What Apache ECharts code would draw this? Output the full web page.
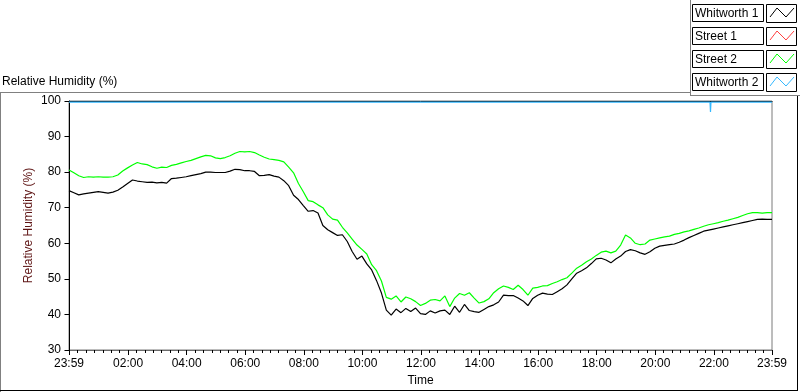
<!DOCTYPE html>
<html><head><meta charset="utf-8">
<script src="https://cdn.jsdelivr.net/npm/echarts@6/dist/echarts.min.js"></script>
<style>html,body{margin:0;padding:0;background:#fff}#c{width:800px;height:392px}</style>
</head><body><div id="c"></div><script>
// ---- data ----
const seriesNames = ['Whitworth 1', 'Street 1', 'Street 2', 'Whitworth 2'];
const seriesColors = ['#000000', '#ff4040', '#00ff00', '#33b8ff'];
// sample times: minutes from midnight, 23:59 of the previous day = -1, every 10 minutes
const sampleMinutes = Array.from({length: 145}, (_, i) => -1 + 10 * i);
const whitworth1 = [
74.8,74.2,73.6,73.9,74.1,74.3,74.5,74.3,74.1,74.4,
74.9,75.8,76.8,77.8,77.5,77.3,77.1,77.2,77.0,77.1,
76.9,78.2,78.3,78.5,78.7,79.0,79.3,79.6,80.0,80.0,
79.9,79.9,79.9,80.3,80.8,80.7,80.4,80.4,80.2,79.0,
79.1,79.3,78.9,78.6,77.6,76.2,73.5,72.3,70.6,69.0,
69.2,68.5,65.0,63.8,63.0,62.2,62.4,60.5,57.7,55.5,
56.4,54.2,52.5,49.5,46.0,41.2,39.8,41.5,40.5,41.7,
40.8,41.8,40.2,40.0,41.0,40.4,41.0,41.2,40.0,42.3,
40.6,42.8,41.1,40.8,40.6,41.4,42.2,42.7,43.5,45.4,
45.3,45.3,44.6,43.8,42.5,44.5,45.4,46.0,45.7,45.6,
46.4,47.2,48.3,50.0,51.6,52.3,53.1,54.3,55.6,55.8,
55.3,54.5,55.6,56.4,57.7,58.2,57.9,57.3,56.9,57.6,
58.6,59.2,59.4,59.6,59.8,60.3,60.9,61.6,62.2,62.8,
63.4,63.7,64.0,64.3,64.6,64.9,65.2,65.5,65.8,66.1,
66.4,66.7,66.8,66.7,66.7
];
const street1 = [];
const street2 = [
80.6,79.8,79.0,78.5,78.7,78.6,78.7,78.6,78.6,78.7,
79.2,80.3,81.2,82.0,82.7,82.3,82.1,81.5,81.1,81.4,
81.3,81.9,82.2,82.6,83.0,83.3,83.8,84.3,84.7,84.6,
84.0,83.8,84.1,84.6,85.3,85.8,85.7,85.8,85.5,84.8,
84.2,83.7,83.5,83.3,82.9,81.4,79.8,76.8,74.5,72.0,
71.7,70.8,70.0,68.0,66.8,66.5,64.5,62.9,61.2,59.5,
58.3,57.0,54.0,52.3,49.4,44.8,44.3,45.2,43.5,44.9,
44.4,43.6,42.5,43.1,44.0,44.2,43.8,45.2,42.2,44.6,
45.9,45.4,46.1,44.6,43.2,43.6,44.4,46.1,47.2,48.0,
47.6,47.0,48.2,47.0,45.4,47.4,47.6,48.0,48.1,48.7,
49.2,49.8,50.3,51.6,53.0,53.8,54.8,55.6,56.6,57.5,
57.8,57.3,57.8,59.5,62.3,61.5,60.0,59.6,59.8,60.9,
61.2,61.5,61.8,62.0,62.5,62.8,63.2,63.5,63.9,64.3,
64.8,65.2,65.5,65.8,66.2,66.5,66.9,67.3,67.8,68.3,
68.6,68.6,68.5,68.6,68.6
];
const whitworth2Minutes = [-1, 1312, 1313, 1314, 1439];
const whitworth2 = [99.7, 99.7, 96.9, 99.7, 99.7];
const xTickValues = [-1, 120, 240, 360, 480, 600, 720, 840, 960, 1080, 1200, 1320, 1439];
const xTickLabels = ['23:59','02:00','04:00','06:00','08:00','10:00','12:00','14:00','16:00','18:00','20:00','22:00','23:59'];
const yMin = 30, yMax = 100, yStep = 10;
const titleText = 'Relative Humidity (%)';
const yName = 'Relative Humidity (%)';
const xName = 'Time';

// ---- build ----
const FONT = 'Liberation Sans';
const minorTicks = [];
for (let k = 0; k < xTickValues.length - 1; k++) {
  const a = xTickValues[k], b = xTickValues[k + 1];
  for (let j = 1; j < 7; j++) minorTicks.push(a + (b - a) * j / 7);
}
const pairs = (xs, ys) => ys.map((v, i) => [xs[i], v]);
const seriesData = [
  pairs(sampleMinutes, whitworth1),
  pairs(sampleMinutes, street1),
  pairs(sampleMinutes, street2),
  pairs(whitworth2Minutes, whitworth2)
];
const drawOrder = [2, 1, 0, 3];
const series = drawOrder.map(i => ({
  name: seriesNames[i], type: 'line', data: seriesData[i], showSymbol: false,
  symbol: 'none', lineStyle: {color: seriesColors[i], width: 1.2}, itemStyle: {color: seriesColors[i]},
  animation: false, silent: true, clip: true
}));

const graphics = [];
// panel frame lines
const L = (x1, y1, x2, y2, c) => graphics.push({type: 'line', shape: {x1, y1, x2, y2}, style: {stroke: c, lineWidth: 1}, silent: true});
L(0, 92.5, 690, 92.5, '#808080');
L(0.5, 92, 0.5, 392, '#808080');
L(690.5, 0, 690.5, 95, '#808080');
L(690, 95.5, 800, 95.5, '#808080');
L(797.5, 96, 797.5, 391, '#000');
L(0, 390.5, 798, 390.5, '#000');
graphics.push({type: 'text', left: 2, top: 76, style: {text: titleText, font: '12px ' + FONT, fill: '#000'}});
seriesNames.forEach((n, i) => {
  const t = 4 + 23 * i;
  graphics.push({type: 'rect', shape: {x: 692.5, y: t + 0.5, width: 71, height: 17}, style: {fill: '#fff', stroke: '#000', lineWidth: 1}});
  graphics.push({type: 'text', x: 695, y: t + 9.5, style: {text: n, font: '12px ' + FONT, fill: '#000', verticalAlign: 'middle'}});
  graphics.push({type: 'rect', shape: {x: 766.5, y: t + 0.5, width: 30, height: 18}, style: {fill: '#fff', stroke: '#000', lineWidth: 1}});
  graphics.push({type: 'polyline', shape: {points: [[770, t + 13], [777, t + 4], [786, t + 13], [794, t + 4]]}, style: {stroke: seriesColors[i], lineWidth: 1, fill: null}});
});

const baseX = {type: 'value', min: -1, max: 1439, gridIndex: 0, splitLine: {show: false}};
const option = {
  animation: false,
  backgroundColor: '#fff',
  grid: {left: 69, right: 28, top: 101, bottom: 39, show: true, borderColor: '#7a7a7a', borderWidth: 1, backgroundColor: '#fff'},
  xAxis: [
    Object.assign({}, baseX, {
      position: 'bottom', name: xName, nameLocation: 'middle', nameGap: 25, nameMoveOverlap: false,
      nameTextStyle: {fontFamily: FONT, fontSize: 12, color: '#000'},
      axisLine: {show: true, lineStyle: {color: '#6a6a6a', width: 1}},
      axisTick: {show: true, customValues: xTickValues, length: 5, lineStyle: {color: '#000'}},
      axisLabel: {show: true, customValues: xTickValues, margin: 8, fontFamily: FONT, fontSize: 12, color: '#000',
        formatter: v => { const k = xTickValues.indexOf(v); return k >= 0 ? xTickLabels[k] : ''; }}
    }),
    Object.assign({}, baseX, {
      position: 'bottom',
      axisLine: {show: false},
      axisTick: {show: true, customValues: minorTicks, length: 3, lineStyle: {color: '#000'}},
      axisLabel: {show: false}
    }),
    Object.assign({}, baseX, {
      position: 'top',
      axisLine: {show: true, lineStyle: {color: '#000', width: 1}},
      axisTick: {show: false}, axisLabel: {show: false}
    })
  ],
  yAxis: {
    type: 'value', min: yMin, max: yMax, interval: yStep,
    name: yName, nameLocation: 'middle', nameGap: 34, nameRotate: 90, nameMoveOverlap: false,
    nameTextStyle: {fontFamily: FONT, fontSize: 12, color: '#5e1414'},
    axisLine: {show: true, lineStyle: {color: '#000', width: 1}},
    axisTick: {show: true, length: 5, lineStyle: {color: '#000'}},
    axisLabel: {margin: 8, fontFamily: FONT, fontSize: 12, color: '#000'},
    splitLine: {show: false}
  },
  series: series,
  graphic: graphics
};
const chart = echarts.init(document.getElementById('c'), null, {renderer: 'canvas'});
chart.setOption(option);
</script></body></html>
